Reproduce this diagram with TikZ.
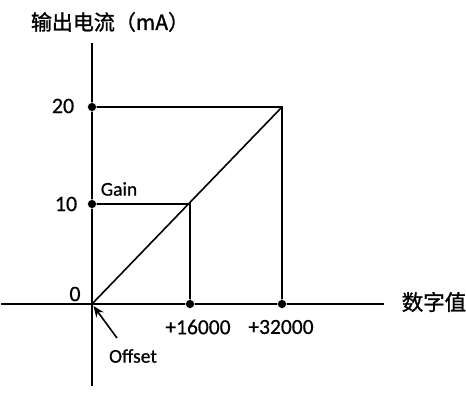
\documentclass[tikz,border=0pt]{standalone}
\usepackage{fontspec}
\setmainfont{Carlito}[FakeBold=0.6]
\newfontfamily\cjk{Noto Sans CJK SC}[FakeBold=1.2]
\usetikzlibrary{arrows.meta}
\begin{document}
\begin{tikzpicture}[x=1pt,y=-1pt,
  axisline/.style={line width=1.6pt},
  guide/.style={line width=1.6pt},
  dotpt/.style={circle,fill=black,draw=white,line width=0.5pt,inner sep=0pt,minimum size=9pt},
  lbl/.style={inner sep=0pt,font=\fontsize{22}{24}\selectfont},
  xnum/.style={inner sep=0pt,font=\fontsize{21.5}{24}\selectfont},
  small/.style={inner sep=0pt,font=\fontsize{19.5}{22}\selectfont},
  cjklbl/.style={inner sep=0pt,font=\cjk\fontsize{21.5}{24}\selectfont},
  titlelbl/.style={inner sep=0pt,font=\cjk\fontsize{21}{24}\selectfont}]
\useasboundingbox (0,0) rectangle (466,392);
% axes
\coordinate (ytop) at (92,43);
\coordinate (ybot) at (92,386);
\coordinate (xl) at (1,304);
\coordinate (xr) at (384,304);
\coordinate (O) at (92,304);
\coordinate (P20) at (282,107);
\coordinate (P10) at (190,204);
\draw[axisline] (ytop) -- (ybot);
\draw[axisline] (xl) -- (xr);
% guides
\draw[guide] (92,107) -- (P20) -- (282,304);
\draw[guide] (92,204) -- (P10) -- (190,304);
\draw[guide] (O) -- (P20);
% dots
\node[dotpt] (d20) at (92,107) {};
\node[dotpt] (d10) at (92,204) {};
\node[dotpt] (d16) at (190,304) {};
\node[dotpt] (d32) at (282,304) {};
% labels
\node[titlelbl] (title) at (110,22) {输出电流（mA）};
\node[cjklbl] (xlab) at (434,302) {数字值};
\node[lbl] (l20) at (63,106) {20};
\node[lbl] (l10) at (66,204) {10};
\node[lbl] (l0) at (75,294) {0};
\node[small] (gain) at (119,189) {Gain};
\node[xnum] (l16) at (198,327) {+16000};
\node[xnum] (l32) at (281,327) {+32000};
\node[small] (offset) at (133,356) {Offset};
\coordinate (arrs) at (117,338);
\coordinate (arre) at (93.5,306);
\draw[line width=1.6pt,-{Stealth[length=11pt,width=9pt]}] (arrs) -- (arre);
\end{tikzpicture}
\end{document}
